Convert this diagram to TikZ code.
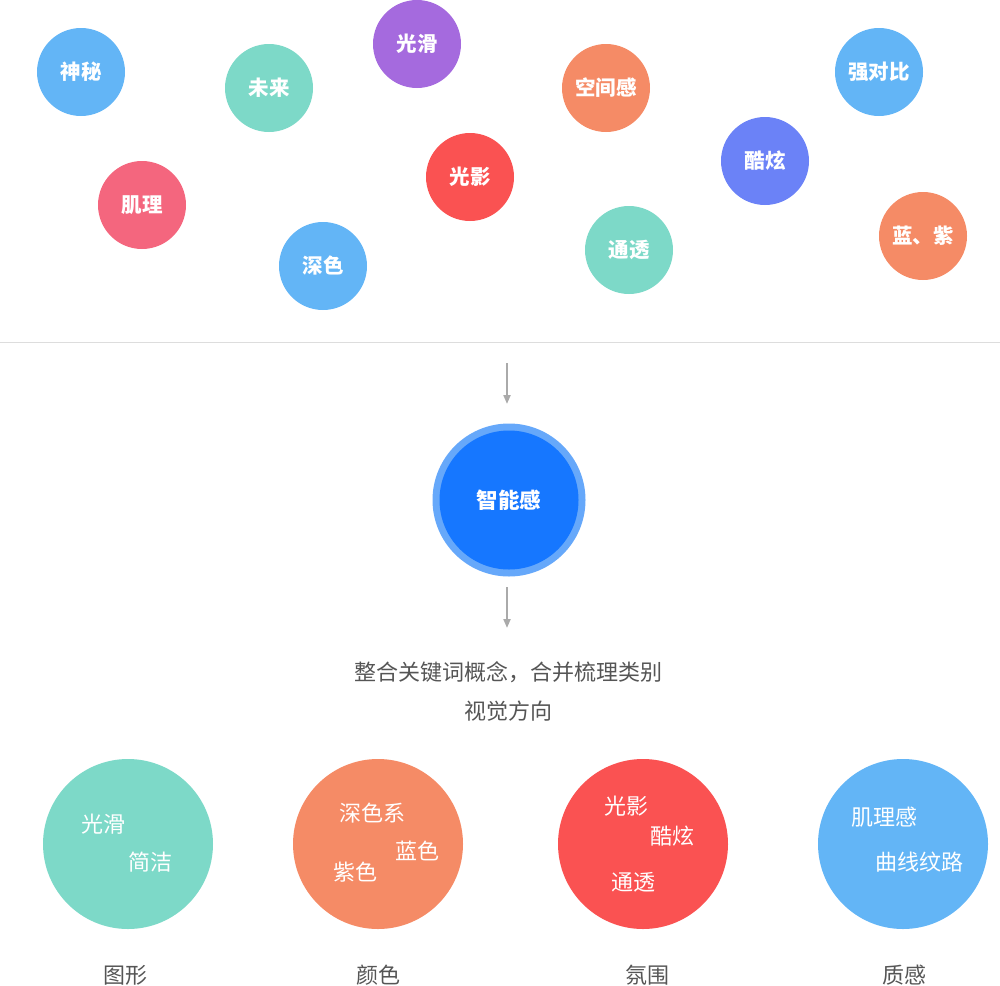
\documentclass[tikz,border=0pt]{standalone}
\usepackage{fontspec}
\setmainfont{Noto Sans CJK SC}
\usetikzlibrary{arrows.meta}
\definecolor{cblue}{HTML}{63B5F6}
\definecolor{cteal}{HTML}{7DD9C8}
\definecolor{cpurple}{HTML}{A56ADE}
\definecolor{cpink}{HTML}{F4667E}
\definecolor{cred}{HTML}{FA5252}
\definecolor{corange}{HTML}{F58B66}
\definecolor{cindigo}{HTML}{6B82F7}
\definecolor{cmain}{HTML}{1677FF}
\definecolor{cring}{HTML}{66A8FA}
\definecolor{cgray}{HTML}{AAAAAA}
\definecolor{cline}{HTML}{DDDDDD}
\definecolor{ctext}{HTML}{555555}
\tikzset{
  kw/.style={circle, fill=#1, minimum size=88pt, inner sep=0pt, text=white, font=\fontsize{20.5}{24}\selectfont\bfseries},
  grp/.style={circle, fill=#1, minimum size=170pt, inner sep=0pt},
  inw/.style={text=white, inner sep=0pt, font=\fontsize{22}{26}\selectfont},
  lbl/.style={text=ctext, inner sep=0pt, font=\fontsize{22}{26}\selectfont},
  arr/.style={draw=cgray, line width=2pt, -{Triangle[length=9pt,width=7pt]}},
}
\begin{document}
\begin{tikzpicture}[x=1pt,y=-1pt]
\useasboundingbox (0,0) rectangle (1000,985);
% keywords
\node[kw=cblue] (k1) at (81,72) {神秘};
\node[kw=cteal] (k2) at (269,88) {未来};
\node[kw=cpurple] (k3) at (417,44) {光滑};
\node[kw=cpink] (k4) at (142,205) {肌理};
\node[kw=cblue] (k5) at (323,266) {深色};
\node[kw=cred] (k6) at (470,177) {光影};
\node[kw=corange] (k7) at (606,88) {空间感};
\node[kw=cblue] (k8) at (879,72) {强对比};
\node[kw=cindigo] (k9) at (765,161) {酷炫};
\node[kw=cteal] (k10) at (629,250) {通透};
\node[kw=corange] (k11) at (923,236) {蓝、紫};
% separator
\coordinate (sl) at (0,342);
\coordinate (sr) at (1000,342);
\draw[cline, line width=1pt] (sl) -- (sr);
% center
\coordinate (a1s) at (507,363);
\coordinate (a1e) at (507,404);
\draw[arr] (a1s) -- (a1e);
\node[circle, fill=cring, minimum size=153pt, inner sep=0pt] (ring) at (509,500) {};
\node[circle, fill=cmain, minimum size=139pt, inner sep=0pt, text=white, font=\fontsize{21.5}{25}\selectfont\bfseries] (main) at (509,500) {智能感};
\coordinate (a2s) at (507,587);
\coordinate (a2e) at (507,628);
\draw[arr] (a2s) -- (a2e);
\node[lbl] (t1) at (508,672) {整合关键词概念，合并梳理类别};
\node[lbl] (t2) at (508,711) {视觉方向};
% groups
\node[grp=cteal] (g1) at (128,844) {};
\node[inw] (g1a) at (103,824) {光滑};
\node[inw] (g1b) at (150,862) {简洁};
\node[lbl] (l1) at (125,975) {图形};
\node[grp=corange] (g2) at (378,844) {};
\node[inw] (g2a) at (372,813) {深色系};
\node[inw] (g2b) at (417,851) {蓝色};
\node[inw] (g2c) at (355,872) {紫色};
\node[lbl] (l2) at (378,975) {颜色};
\node[grp=cred] (g3) at (643,844) {};
\node[inw] (g3a) at (626,806) {光影};
\node[inw] (g3b) at (672,836) {酷炫};
\node[inw] (g3c) at (633,882) {通透};
\node[lbl] (l3) at (647,975) {氛围};
\node[grp=cblue] (g4) at (903,844) {};
\node[inw] (g4a) at (884,817) {肌理感};
\node[inw] (g4b) at (919,862) {曲线纹路};
\node[lbl] (l4) at (904,975) {质感};
\end{tikzpicture}
\end{document}
